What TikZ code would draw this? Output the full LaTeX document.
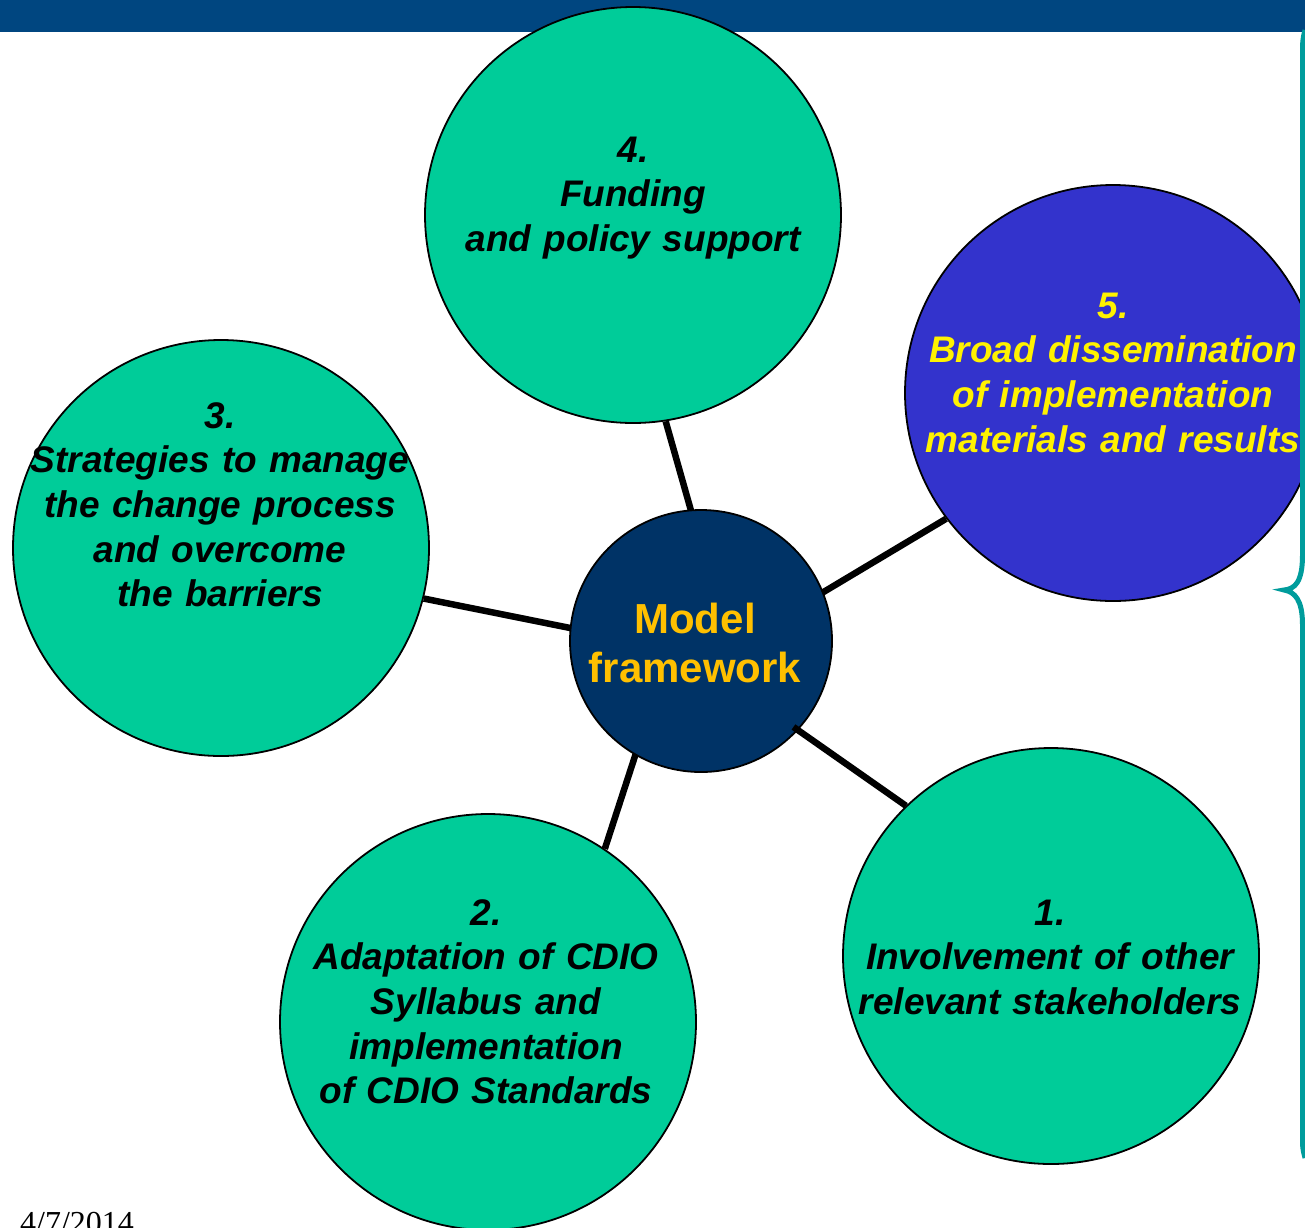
\documentclass[tikz,border=0pt]{standalone}
\usepackage{fontspec}
\setmainfont{Liberation Sans}
\newfontfamily\datefont{Liberation Serif}
\definecolor{barblue}{HTML}{004680}
\definecolor{leafgreen}{HTML}{00CC99}
\definecolor{hubblue}{HTML}{003366}
\definecolor{violetblue}{HTML}{3333CC}
\definecolor{hubtext}{HTML}{FFC000}
\definecolor{bracecol}{HTML}{009C9C}
\begin{document}
\begin{tikzpicture}[x=1pt,y=-1pt,
  leaf/.style={circle,draw=black,line width=1.8pt,fill=leafgreen,minimum size=416pt,inner sep=0pt},
  hub/.style={circle,draw=black,line width=1.8pt,fill=hubblue,minimum size=262pt,inner sep=0pt},
  spoke/.style={line width=6.5pt,black},
  label/.style={text width=440pt,align=center,anchor=base,inner sep=0pt,
    font=\fontsize{37}{44.7}\selectfont\bfseries\itshape}]
\clip (0,0) rectangle (1305,1227);
\fill[white] (0,0) rectangle (1305,1227);
% header bar
\fill[barblue] (0,0) rectangle (1305,32);

% hub and satellite circles
\node[leaf] (c4) at (633,215) {};
\node[leaf,fill=violetblue] (c5) at (1113,393) {};
\node[leaf] (c3) at (221,548) {};
\node[leaf] (c2) at (488,1022) {};
\node[leaf] (c1) at (1051,956) {};

% spokes
\draw[spoke] (c4.-81) -- (705,560);
\draw[spoke] (c5.217.7) -- (780,618);
\draw[spoke] (c3.-14) -- (620,638);
\draw[spoke] (c2.56.5) -- (650,710);

\node[hub] (m) at (701,641) {};
\draw[spoke] (c1.134.4) -- ([shift={(-4,-4)}]m.-43.4);

% hub text
\node[anchor=base,align=center,inner sep=0pt,text=hubtext,
  font=\fontsize{42}{49}\selectfont\bfseries] (mt) at (695,682) {Model\\framework};

% satellite texts
\node[label] (t4) at (633,162) {4.\\Funding\\and policy support};
\node[label,text=yellow] (t5) at (1113,318) {5.\\Broad dissemination\\of implementation\\materials and results};
\node[label] (t3) at (220,428) {3.\\Strategies to manage\\the change process\\and overcome\\the barriers};
\node[label] (t2) at (486,925) {2.\\Adaptation of CDIO\\Syllabus and\\implementation\\of CDIO Standards};
\node[label] (t1) at (1050,925) {1.\\Involvement of other\\relevant stakeholders};

% side brace
\draw[bracecol,line width=5pt]
  (1305,30) .. controls (1302.5,40) .. (1302.5,60) -- (1302.5,555)
  .. controls (1302.5,582) and (1295,589) .. (1284,590)
  .. controls (1295,592) and (1302.5,600) .. (1302.5,625) -- (1302.5,1135)
  .. controls (1302.5,1148) .. (1305,1158);

% date
\node[anchor=base west,inner sep=0pt,font=\datefont\fontsize{32}{36}\selectfont] (date) at (20,1233) {4/7/2014};
\end{tikzpicture}
\end{document}
